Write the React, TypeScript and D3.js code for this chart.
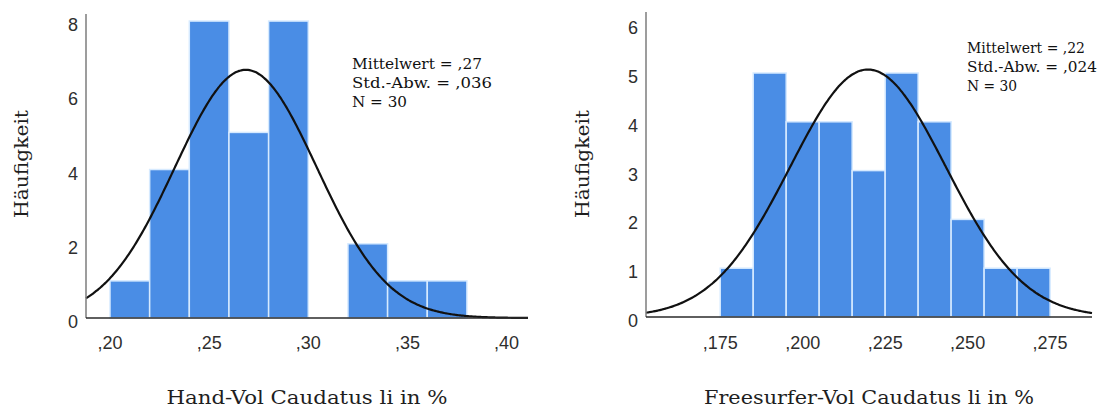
import React from "react";
import * as d3 from "d3";

// ---- Data ----
const leftBinStart = 0.2;
const leftBinWidth = 0.02;
const leftCounts = [1, 4, 8, 5, 8, 0, 2, 1, 1];
const leftMean = 0.2685;
const leftSd = 0.0358;
const leftN = 30;
const leftXTicks = [0.2, 0.25, 0.3, 0.35, 0.4];
const leftYTicks = [0, 2, 4, 6, 8];
const leftStats = ["Mittelwert = ,27", "Std.-Abw. = ,036", "N = 30"];
const leftTitle = "Hand-Vol Caudatus li in %";

const rightBinStart = 0.175;
const rightBinWidth = 0.01;
const rightCounts = [1, 5, 4, 4, 3, 5, 4, 2, 1, 1];
const rightMean = 0.2198;
const rightSd = 0.0236;
const rightN = 30;
const rightXTicks = [0.175, 0.2, 0.225, 0.25, 0.275];
const rightYTicks = [0, 1, 2, 3, 4, 5, 6];
const rightStats = ["Mittelwert = ,22", "Std.-Abw. = ,024", "N = 30"];
const rightTitle = "Freesurfer-Vol Caudatus li in %";

const yTitle = "Häufigkeit";

type PanelProps = {
  binStart: number;
  binWidth: number;
  counts: number[];
  mean: number;
  sd: number;
  n: number;
  xTicks: number[];
  yTicks: number[];
  stats: string[];
  title: string;
  xDomain: [number, number];
  xRange: [number, number];
  yDomain: [number, number];
  yRange: [number, number];
  decimals: number;
  statsX: number;
  statsY: number[];
  statsLen: number[];
  titleLen: number;
  yTitleX: number;
};

const fmt = (v: number, d: number) => "," + v.toFixed(d).split(".")[1];

function Panel(p: PanelProps) {
  const x = d3.scaleLinear().domain(p.xDomain).range(p.xRange);
  const y = d3.scaleLinear().domain(p.yDomain).range(p.yRange);
  const bins = p.counts.map((c, i) => ({
    x0: p.binStart + i * p.binWidth,
    x1: p.binStart + (i + 1) * p.binWidth,
    c,
  }));
  const dens = (v: number) =>
    (p.n * p.binWidth) / (p.sd * Math.sqrt(2 * Math.PI)) *
    Math.exp(-0.5 * ((v - p.mean) / p.sd) ** 2);
  const pts = d3.range(0, 301).map((i) => {
    const v = p.xDomain[0] + ((p.xDomain[1] - p.xDomain[0]) * i) / 300;
    return [v, dens(v)] as [number, number];
  });
  const line = d3
    .line<[number, number]>()
    .x((d) => x(d[0]))
    .y((d) => y(d[1]))
    .curve(d3.curveBasis);
  const baseY = y(0);
  const midX = (p.xRange[0] + p.xRange[1]) / 2;
  return (
    <g>
      {bins
        .filter((b) => b.c > 0)
        .map((b, i) => (
          <rect
            key={i}
            x={x(b.x0)}
            y={y(b.c)}
            width={x(b.x1) - x(b.x0)}
            height={baseY - y(b.c)}
            fill="#4a8de5"
            stroke="#d6eaff"
            strokeWidth={1.5}
          />
        ))}
      <path d={line(pts) || ""} fill="none" stroke="#111" strokeWidth={2.2} />
      <line x1={p.xRange[0]} x2={p.xRange[0]} y1={p.yRange[1]} y2={baseY} stroke="#7d7d7d" strokeWidth={1.5} />
      <line x1={p.xRange[0]} x2={p.xRange[1]} y1={baseY} y2={baseY} stroke="#2a2a2a" strokeWidth={1.5} />
      {p.yTicks.map((t) => (
        <text
          key={"y" + t}
          x={p.xRange[0] - 8}
          y={y(t) + 4}
          textAnchor="end"
          dominantBaseline="central"
          fontFamily="'Liberation Sans', Arial, sans-serif"
          fontSize={18}
          fill="#2e2e2e"
        >
          {t}
        </text>
      ))}
      {p.xTicks.map((t) => (
        <text
          key={"x" + t}
          x={x(t)}
          y={343}
          textAnchor="middle"
          dominantBaseline="central"
          fontFamily="'Liberation Sans', Arial, sans-serif"
          fontSize={18}
          fill="#2e2e2e"
        >
          {fmt(t, p.decimals)}
        </text>
      ))}
      {p.stats.map((s, i) => (
        <text
          key={"s" + i}
          x={p.statsX}
          y={p.statsY[i]}
          dominantBaseline="central"
          fontFamily="'DejaVu Serif', serif"
          fontSize={15}
          fill="#111"
          textLength={p.statsLen[i]}
          lengthAdjust="spacingAndGlyphs"
        >
          {s}
        </text>
      ))}
      <text
        x={midX}
        y={397}
        textAnchor="middle"
        dominantBaseline="central"
        fontFamily="'DejaVu Serif', serif"
        fontSize={19}
        fill="#1e1e1e"
        textLength={p.titleLen}
        lengthAdjust="spacingAndGlyphs"
      >
        {p.title}
      </text>
      <text
        transform={`translate(${p.yTitleX},${164}) rotate(-90)`}
        textAnchor="middle"
        dominantBaseline="central"
        fontFamily="'DejaVu Serif', serif"
        fontSize={19}
        fill="#1e1e1e"
        textLength={108}
        lengthAdjust="spacingAndGlyphs"
      >
        {yTitle}
      </text>
    </g>
  );
}

export default function App() {
  return (
    <svg
      width={1098}
      height={407}
      style={{ position: "absolute", left: 0, top: 0, background: "#fff" }}
    >
      <Panel
        binStart={leftBinStart}
        binWidth={leftBinWidth}
        counts={leftCounts}
        mean={leftMean}
        sd={leftSd}
        n={leftN}
        xTicks={leftXTicks}
        yTicks={leftYTicks}
        stats={leftStats}
        title={leftTitle}
        xDomain={[0.1879, 0.4108]}
        xRange={[86, 528]}
        yDomain={[0, 8.19]}
        yRange={[318, 14]}
        decimals={2}
        statsX={352}
        statsY={[64, 83, 102]}
        statsLen={[130, 140, 55]}
        titleLen={281}
        yTitleX={21}
      />
      <Panel
        binStart={rightBinStart}
        binWidth={rightBinWidth}
        counts={rightCounts}
        mean={rightMean}
        sd={rightSd}
        n={rightN}
        xTicks={rightXTicks}
        yTicks={rightYTicks}
        stats={rightStats}
        title={rightTitle}
        xDomain={[0.1525, 0.2877]}
        xRange={[646, 1092]}
        yDomain={[0, 6.25]}
        yRange={[317, 12]}
        decimals={3}
        statsX={967}
        statsY={[48, 67, 86]}
        statsLen={[118, 130, 50]}
        titleLen={330}
        yTitleX={582}
      />
    </svg>
  );
}
